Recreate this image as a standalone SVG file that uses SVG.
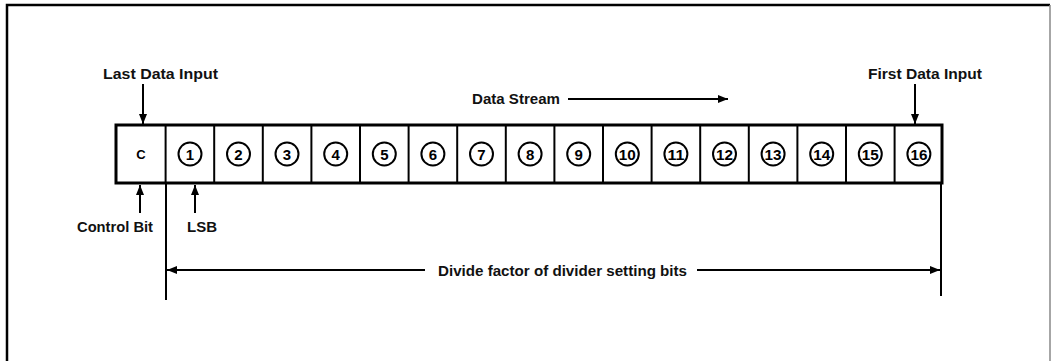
<svg xmlns="http://www.w3.org/2000/svg" width="1051" height="361" viewBox="0 0 1051 361">
<defs>
<marker id="ah" viewBox="0 0 10 8" refX="10" refY="4" markerWidth="10" markerHeight="8" markerUnits="userSpaceOnUse" orient="auto">
<path d="M0,0 L10,4 L0,8 Z" fill="#000"/>
</marker>
<style>
.lbl{font-family:"Liberation Sans",Arial,sans-serif;font-size:15px;font-weight:bold;fill:#111}
.num{font-family:"Liberation Sans",Arial,sans-serif;font-size:15px;font-weight:bold;fill:#000;text-anchor:middle}
.ln{stroke:#000;stroke-width:2;fill:none}
.circ{stroke:#000;stroke-width:2;fill:#fff}
.div{stroke:#000;stroke-width:2}
</style>
</defs>
<rect width="1051" height="361" fill="#fff"/>
<g id="frame">
<path d="M7,361 L7,5 L1050,5" stroke="#000" stroke-width="2.5" fill="none"/>
<path d="M1050,5 L1050,361" stroke="#888" stroke-width="1.5" fill="none"/>
</g>
<g id="register">
<rect x="116" y="125" width="826" height="58" fill="#fff" stroke="#000" stroke-width="3"/>
<g>
<line class="div" x1="165.6" y1="125" x2="165.6" y2="183"/>
<line class="div" x1="214.2" y1="125" x2="214.2" y2="183"/>
<line class="div" x1="262.8" y1="125" x2="262.8" y2="183"/>
<line class="div" x1="311.4" y1="125" x2="311.4" y2="183"/>
<line class="div" x1="360" y1="125" x2="360" y2="183"/>
<line class="div" x1="408.6" y1="125" x2="408.6" y2="183"/>
<line class="div" x1="457.2" y1="125" x2="457.2" y2="183"/>
<line class="div" x1="505.8" y1="125" x2="505.8" y2="183"/>
<line class="div" x1="554.4" y1="125" x2="554.4" y2="183"/>
<line class="div" x1="603" y1="125" x2="603" y2="183"/>
<line class="div" x1="651.6" y1="125" x2="651.6" y2="183"/>
<line class="div" x1="700.2" y1="125" x2="700.2" y2="183"/>
<line class="div" x1="748.8" y1="125" x2="748.8" y2="183"/>
<line class="div" x1="797.4" y1="125" x2="797.4" y2="183"/>
<line class="div" x1="846" y1="125" x2="846" y2="183"/>
<line class="div" x1="894.6" y1="125" x2="894.6" y2="183"/>
</g>
</g>
<g id="cell-c"><text class="num" x="141" y="159" style="font-size:13px">C</text></g>
<g id="bit-1"><circle class="circ" cx="190" cy="154" r="11.5"/><text class="num" x="190" y="159.5">1</text></g>
<g id="bit-2"><circle class="circ" cx="238.5" cy="154" r="11.5"/><text class="num" x="238.5" y="159.5">2</text></g>
<g id="bit-3"><circle class="circ" cx="287" cy="154" r="11.5"/><text class="num" x="287" y="159.5">3</text></g>
<g id="bit-4"><circle class="circ" cx="335.7" cy="154" r="11.5"/><text class="num" x="335.7" y="159.5">4</text></g>
<g id="bit-5"><circle class="circ" cx="384.3" cy="154" r="11.5"/><text class="num" x="384.3" y="159.5">5</text></g>
<g id="bit-6"><circle class="circ" cx="432.9" cy="154" r="11.5"/><text class="num" x="432.9" y="159.5">6</text></g>
<g id="bit-7"><circle class="circ" cx="481.5" cy="154" r="11.5"/><text class="num" x="481.5" y="159.5">7</text></g>
<g id="bit-8"><circle class="circ" cx="530.1" cy="154" r="11.5"/><text class="num" x="530.1" y="159.5">8</text></g>
<g id="bit-9"><circle class="circ" cx="578.7" cy="154" r="11.5"/><text class="num" x="578.7" y="159.5">9</text></g>
<g id="bit-10"><circle class="circ" cx="627.3" cy="154" r="11.5"/><text class="num" x="627.3" y="159.5" textLength="17" lengthAdjust="spacingAndGlyphs">10</text></g>
<g id="bit-11"><circle class="circ" cx="675.9" cy="154" r="11.5"/><text class="num" x="675.9" y="159.5" textLength="17" lengthAdjust="spacingAndGlyphs">11</text></g>
<g id="bit-12"><circle class="circ" cx="724.5" cy="154" r="11.5"/><text class="num" x="724.5" y="159.5" textLength="17" lengthAdjust="spacingAndGlyphs">12</text></g>
<g id="bit-13"><circle class="circ" cx="773.1" cy="154" r="11.5"/><text class="num" x="773.1" y="159.5" textLength="17" lengthAdjust="spacingAndGlyphs">13</text></g>
<g id="bit-14"><circle class="circ" cx="821.7" cy="154" r="11.5"/><text class="num" x="821.7" y="159.5" textLength="17" lengthAdjust="spacingAndGlyphs">14</text></g>
<g id="bit-15"><circle class="circ" cx="870.3" cy="154" r="11.5"/><text class="num" x="870.3" y="159.5" textLength="17" lengthAdjust="spacingAndGlyphs">15</text></g>
<g id="bit-16"><circle class="circ" cx="918.9" cy="154" r="11.5"/><text class="num" x="918.9" y="159.5" textLength="17" lengthAdjust="spacingAndGlyphs">16</text></g>
<g id="labels">
<text class="lbl" x="103" y="79" textLength="115" lengthAdjust="spacingAndGlyphs">Last Data Input</text>
<text class="lbl" x="868" y="79" textLength="114" lengthAdjust="spacingAndGlyphs">First Data Input</text>
<text class="lbl" x="472" y="104" textLength="88" lengthAdjust="spacingAndGlyphs">Data Stream</text>
<text class="lbl" x="77" y="232" textLength="76" lengthAdjust="spacingAndGlyphs">Control Bit</text>
<text class="lbl" x="187" y="232" textLength="30" lengthAdjust="spacingAndGlyphs">LSB</text>
<text class="lbl" x="438" y="276" textLength="249" lengthAdjust="spacingAndGlyphs">Divide factor of divider setting bits</text>
</g>
<g id="connectors">
<line class="ln" x1="143" y1="84" x2="143" y2="124" marker-end="url(#ah)"/>
<line class="ln" x1="915" y1="84" x2="915" y2="124" marker-end="url(#ah)"/>
<line class="ln" x1="568" y1="99" x2="728" y2="99" marker-end="url(#ah)"/>
<line class="ln" x1="140" y1="213" x2="140" y2="185" marker-end="url(#ah)"/>
<line class="ln" x1="195" y1="213" x2="195" y2="185" marker-end="url(#ah)"/>
<line class="ln" x1="166" y1="183" x2="166" y2="300"/>
<line class="ln" x1="941" y1="183" x2="941" y2="296"/>
<line class="ln" x1="425" y1="270" x2="167" y2="270" marker-end="url(#ah)"/>
<line class="ln" x1="697" y1="270" x2="940" y2="270" marker-end="url(#ah)"/>
</g>
</svg>
